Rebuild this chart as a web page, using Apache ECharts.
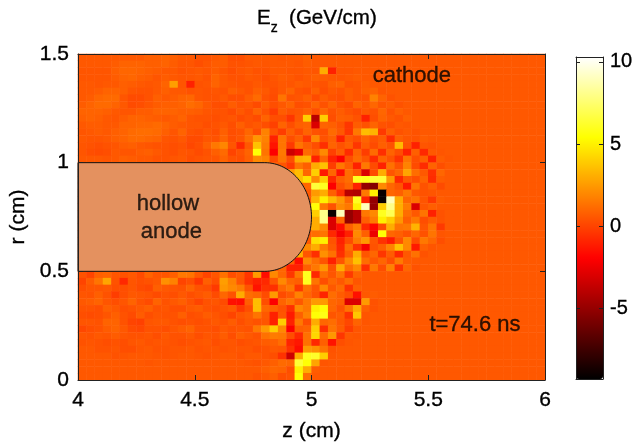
<!DOCTYPE html>
<html><head><meta charset="utf-8">
<style>html,body{margin:0;padding:0;background:#fff}#c{width:634px;height:443px}</style>
<script src="https://cdn.jsdelivr.net/npm/echarts@6/dist/echarts.min.js"></script>
</head><body><div id="c"></div>
<script>
const titleText = 'E{sub|z}  (GeV/cm)';
const xName = 'z (cm)';
const yName = 'r (cm)';
const zRange = [4, 6];
const rRange = [0, 1.5];
const colorRange = [-9.3, 10.3];
const colorTicks = [-5, 0, 5, 10];
const background = 0.6;
const columnCount = 56;
const hotStops = ['#000000','#550000','#aa0000','#ff0000','#ff5500','#ffaa00','#ffff00','#ffff80','#ffffff'];
const annotations = [
  ['hollow', 4.385, 0.811], ['anode', 4.40, 0.682], ['cathode', 5.43, 1.40], ['t=74.6 ns', 5.70, 0.253]
];
const anode = [4, 4.8, 5, 0.5, 1]; // zStart, zArcStart, zTip, rLow, rHigh
// first column held by each row (rows crossing the anode start past it); rows run from r=1.5 down to r=0
const rowStart = [0,0,0,0,0,0,0,0,0,0,0,0,0,0,0,0,22,25,26,27,28,28,28,28,28,28,28,28,27,26,25,22,0,0,0,0,0,0,0,0,0,0,0,0,0,0,0,0];
const rows = [
[.6,.6,.6,.6,.6,.6,.6,.6,.8,.8,.9,.8,.6,.6,.4,.4,.6,.7,.3,.3,.6,.6,.6,.6,.5,.6,.6,.8,.6,.6,.6],
[.6,.6,.6,.6,.7,.9,.9,.9,.8,.8,.9,.7,.5,.5,.3,.5,.7,.7,.4,.4,.5,.6,.5,.6,.6,.6,.5,.7,.6,.6,.6],
[.5,.5,.5,.5,.8,1,1,.9,.8,.7,.6,.6,.4,.5,.6,.5,.7,.5,.3,.5,.6,.4,.4,.6,.6,.5,.5,.6,.5,3,-1,.5,.5],
[.5,.5,.5,.5,.7,.9,1,.8,.7,.5,.7,.6,.5,.5,.6,.4,.9,.6,.4,.4,.6,.5,.3,.5,.7,.6,.4,.6,.8,.7,.6,.5,.6,.7],
[.6,.6,.5,.6,.6,.8,.7,.6,.5,.6,.9,2.6,.5,-1,.4,.5,.9,.6,.5,.4,.4,.6,.4,.4,.6,.5,.7,.6,.5,.4,.8,.9,.4,.5,.7],
[.6,.6,.7,.9,.9,.8,.5,.4,.4,.6,.8,.6,.6,.4,.5,.4,.5,.4,.8,.6,.4,.8,.6,.3,.6,.9,.4,.3,.8,.3,.6,.4,.7,.5,.8,.9,.5],
[.6,.7,1,1.1,1.1,.5,.2,.2,.4,.8,.6,.7,.9,1,.5,.4,.4,.6,.3,.3,.7,1.1,.4,.2,1.4,.4,.5,.8,.2,.7,.4,.3,.7,.5,.4,1.8,.9,.4],
[.7,.9,1.1,1.1,.9,.6,.2,.3,.5,.7,.8,.8,.9,1.2,1,.6,.3,.3,.7,.4,.5,.2,.7,.3,.6,.9,.3,.4,.9,.4,.9,.4,.2,.9,.6,1,.5,.7,.4],
[.9,.9,.9,.8,.6,.5,.5,.7,.7,.9,.9,.9,.8,.8,.7,.5,.4,.4,.2,.6,.3,.9,.4,-.2,.7,.4,.5,.8,.3,1,.4,.7,.4,.2,.6,.4,1,.4,.8],
[.8,.9,.8,.6,.5,.7,.9,.9,.8,.7,.6,.7,.9,.5,.4,.4,.3,.4,.5,.2,.4,.2,.9,.3,.3,-.4,.6,4,-4,4,.3,.8,.7,.4,-1,.3,.9,.6,.4,.8],
[.6,.7,.7,.6,.6,.9,.9,1,1,1.1,.9,.7,.6,.5,.5,.3,.4,.6,.3,.8,.4,.6,.3,-.1,.9,.3,.8,.9,-3,.9,.8,.4,-.4,.7,.4,.9,.4,.3,.6,.5],
[.5,.6,.7,.6,.8,.9,1.1,1.2,1.2,1.1,.8,.5,.9,.4,.3,.5,.3,.8,.3,.4,1,.3,1.8,.4,-.2,.8,.2,.9,.4,.3,1.1,.6,-.4,1.5,3.5,3.2,-.3,.8,.4,.6,.4],
[.6,.5,.5,.6,.8,.9,1.1,1.1,1,.9,.5,.4,.6,.2,.2,.5,.4,.9,.3,.5,1.2,2.4,1.8,-1,1.4,.3,.8,-.3,2,.4,.8,-1,.6,.3,.9,.4,.7,-.7,.8,.5,.4,.7],
[.5,.4,.3,.4,.5,.7,.8,.6,.5,.4,.4,.3,.4,.1,.3,.8,1.5,1.9,.5,-.8,.6,3.6,1.6,-1.4,1.4,-.3,1.4,.8,.3,-.6,.9,.4,.8,-.4,.7,.2,.8,.4,3.4,.4,-1,.5,.4],
[.5,.3,.2,.3,.6,.5,.5,.7,.8,.6,.4,.3,.5,.4,.2,.4,.8,1.1,0,.4,.9,5.5,1.4,-2,1.5,-3.4,-2.6,1.1,.8,2,-.1,.7,-.7,.9,-.2,1.1,-.6,.9,.3,-1,.8,-.8,.6,.5],
[.6,.6,.6,.5,.6,.8,.7,.6,.6,.4,.4,.5,.6,.3,.4,.5,.5,.9,.4,.3,.8,2,1.8,.2,1.4,.3,3,3.2,-1,.9,-1,-2,.3,1.1,.5,-.7,.9,.4,-.5,1.4,.3,.8,-1,.7,.5],
[1,.8,.5,-.3,1.4,.8,3,3.6,-.2,1.5,.7,-1,1.5,.2,-1,1.3,.4,1.8,.2,-.7,.9,.3],
[2.5,3.5,1,4,-1.2,1,-1.5,1.2,.5,-3,.2,3,.5,1,2.8,1.2,.6,-.6,1],
[3.5,4.5,2,4,-.8,.8,1.2,6,6,6.5,6.5,2.5,-.8,.6,.3,.9,-.7,.7],
[1,6.5,6,-2,.3,.9,-1,-5,-5.5,2,1,.5,-1.2,1.4,.4,.8,.2],
[2.5,3,.8,-.6,-4,-4.2,1.5,5,-9,1,.8,1.5,.6,.4,.5],
[3.2,5,3.4,2.4,1,6,-1,-5,-9,9,3,1,1.3,.5,-.3,.7],
[5.5,1.5,.4,2,1.5,5,9,-5,4,8,3,1.6,-3,.5,.8,.6],
[4,8,-9,9,-5,-4,1.5,2,6,7,3,1.2,.6,1.4,-1,.4],
[3,8,-3,1,-5,-4,.8,1.6,5,4,2.4,.8,1.5,.3,.7,.4],
[3,2,-3,-1.6,.8,1.6,-.8,-1.8,.2,3,1.4,1.5,3.2,.5,1.4,-.3],
[1.2,1.4,-.8,-2.2,-1,2,.8,-2.5,5.5,1,.8,.4,1,.4,1.4,.5],
[4.5,5,.4,-1,.2,1.6,2.4,.5,-.5,-1.2,.4,2,.2,1.5,1,.3,.6],
[2,3,1.6,.6,-.8,1.2,-.5,-2.2,.4,.8,1.8,3.6,2,-1.2,.8,.5],
[3,.5,-.6,2.2,1.3,-.6,.8,3,.5,1,-.4,.7,-.8,.6,1.3,.4],
[.8,-1.6,2,1.2,.5,-1,.5,2,3.6,1.2,.6,1,.3,1.6,.7],
[-.4,.5,1,-1,-1,.8,1.5,2.4,.4,3,1.2,2,-.6,1.5,.3,1.8,-.5,1,.4],
[.4,0,.8,.9,.5,.4,.6,.2,.9,.5,.5,.8,1.5,1.4,.6,0,.5,1.3,.3,.6,-.4,2.5,-1.6,2,1,-.4,1.5,6,-.8,1.2,.5,1.4,-.3,.9,.6,.6],
[0,.7,1.4,2.8,.4,-.8,.5,.3,.4,.6,2.2,1.8,0,.3,-.4,.8,.3,2.6,1.8,.5,-.5,-1,-.8,.5,2,1,.8,6,1.4,.3,1,.6,1.2,.5,.6],
[.3,.5,.5,.6,.3,.3,.5,.2,.1,.8,.6,.5,.4,.9,.4,.3,-.3,2.4,2,1.6,.4,-1.4,-.5,-.6,1,1.5,-.4,1.3,.5,2,.6,1.1,-.5,.8,.6,.6],
[.5,.4,.8,.4,-.2,.3,.6,.5,.4,.2,.4,.3,.6,.3,.5,.7,.2,1,.4,3,1.2,1,.2,2.5,.2,.6,1.8,1,.4,-.9,1.2,.7,.3,-1.5,.6,.7,.6],
[.6,.7,.9,.5,.3,.5,.9,.4,.2,.9,.4,.6,.8,.4,0,.4,.5,.2,-1.5,-1.6,.8,3.5,.3,-2,.9,1.4,.6,1.5,2.5,2.5,1,.8,-3,-3,2.5,.4,.6],
[.4,.4,.3,.8,.6,.3,.4,.6,.8,.4,.5,.3,.3,.6,.7,.4,.3,.4,.6,-.3,.3,3.5,1,.8,.4,-.6,2,1.5,5,5.5,1,.4,1.4,3,.8,.4],
[.3,.2,.3,.5,.8,.4,.2,.7,.3,.5,.4,.4,.8,.3,.4,.7,.5,.3,0,.5,.7,1.4,.6,-1,.5,-1.2,.8,1.8,5.5,5.8,.5,.7,-.5,3.8,.5],
[.5,.5,.4,.9,.9,.4,0,-.1,.5,.6,.6,.4,.3,.4,.3,.4,.6,.4,.7,.3,.6,.4,.5,-1,4,-1,1.5,.3,3,1,1.2,.6,.1,.9,.5],
[.1,.3,.4,.7,.9,.6,.2,.1,.4,.4,.3,.5,.7,.9,.4,.4,.3,.6,.4,.5,.4,1.5,2.5,4,2,-2,.8,.9,4,-.6,1.4,.7,-.2,.5],
[.5,.4,.6,.5,.7,.5,.4,.4,.5,.3,.6,.4,.4,.6,.3,.5,.4,.7,.3,.8,.6,.4,1.3,1.6,1.5,.3,-.8,1.3,4.2,1.1,2.4,-.4,.6,.5],
[.4,.5,.4,.3,.4,.3,.5,.6,.4,.5,.5,.4,.3,.4,.5,.6,.3,.5,.5,.3,.4,.5,.7,.8,1.2,-.9,-1.3,1.3,-.8,.8,-1.4,.3,.5],
[.6,.6,.4,.4,.5,.3,.3,.5,.6,.4,.4,.5,.5,.6,.4,.5,.5,.4,.5,.5,.5,.3,.4,.6,.5,-.5,-1.6,2.5,2.2,1.4,.4,.6],
[.6,.6,.6,.6,.4,.5,.6,.6,.6,.5,.4,.5,.6,.6,.5,.4,.5,.6,.6,.4,.6,.6,.4,.3,-.5,-3.4,3,6,6.2,4,.5],
[.6,.6,.6,.6,.6,.6,.6,.6,.5,.6,.6,.6,.6,.6,.6,.6,.6,.6,.6,.6,.5,.4,.6,.8,1.1,1,6.4,5.5,2.8,.5,.6],
[.6,.6,.6,.6,.6,.6,.6,.6,.6,.6,.6,.6,.6,.6,.6,.6,.6,.6,.6,.6,.6,.6,.8,1,.9,.3,5,3,.7,.6],
[.6,.6,.6,.6,.6,.6,.6,.6,.6,.6,.6,.6,.6,.6,.6,.6,.6,.6,.6,.6,.6,.4,.6,.8,.3,.4,5.5,1.2,.6]
];

const cellData = [];
rows.forEach((row, r) => {
  for (let c = 0; c < columnCount; c++) {
    const v = row[c - rowStart[r]];
    cellData.push([c, r, v === undefined ? background : v]);
  }
});
const font = 'Liberation Sans, Arial, sans-serif';
const inkStroke = { textBorderColor: '#000', textBorderWidth: 0.35 };
const axisLabel = { color: '#000', fontSize: 21, fontFamily: font, ...inkStroke };
const line = { show: true, onZero: false, lineStyle: { color: '#222', width: 1 } };

const chart = echarts.init(document.getElementById('c'), null, { renderer: 'canvas' });
chart.setOption({
  animation: false,
  backgroundColor: '#fff',
  title: {
    text: titleText, left: 252, top: -4,
    textStyle: { color: '#000', fontSize: 20.5, fontWeight: 'normal', fontFamily: font, ...inkStroke,
      rich: { sub: { fontSize: 14, fontFamily: font, color: '#000', verticalAlign: 'bottom', padding: [20, 0, 0, 0] } } }
  },
  grid: [
    { left: 78, top: 54, width: 467, height: 326, outerBoundsMode: 'none' },
    { left: 576, top: 57, width: 27, height: 322, outerBoundsMode: 'none' }
  ],
  visualMap: {
    type: 'continuous', seriesIndex: 0, min: colorRange[0], max: colorRange[1],
    orient: 'vertical', left: 576, top: 57, itemWidth: 27, itemHeight: 322,
    text: ['', ''], showLabel: false, calculable: false, hoverLink: false, padding: 0,
    inRange: { color: hotStops }
  },
  xAxis: [
    { type: 'category', gridIndex: 0, show: false, data: Array.from({ length: columnCount }, (_, i) => i) },
    { type: 'value', gridIndex: 0, min: zRange[0], max: zRange[1], interval: 0.5, position: 'bottom', z: 10,
      name: xName, nameLocation: 'middle', nameGap: 41, nameTextStyle: axisLabel, axisLine: line,
      axisTick: { inside: true, length: 5, lineStyle: { color: '#222' } }, axisLabel: { ...axisLabel, margin: 10, formatter: v => String(v) }, splitLine: { show: false } },
    { type: 'value', gridIndex: 0, min: zRange[0], max: zRange[1], interval: 0.5, position: 'top', z: 10,
      axisLine: line, axisTick: { inside: true, length: 5, lineStyle: { color: '#222' } }, axisLabel: { show: false }, splitLine: { show: false } },
    { type: 'value', gridIndex: 1, min: 0, max: 1, position: 'bottom', z: 10, axisLine: line, axisTick: { show: false }, axisLabel: { show: false }, splitLine: { show: false } },
    { type: 'value', gridIndex: 1, min: 0, max: 1, position: 'top', z: 10, axisLine: line, axisTick: { show: false }, axisLabel: { show: false }, splitLine: { show: false } }
  ],
  yAxis: [
    { type: 'category', gridIndex: 0, show: false, inverse: true, data: rows.map((_, i) => i) },
    { type: 'value', gridIndex: 0, min: rRange[0], max: rRange[1], interval: 0.5, position: 'left', z: 10,
      name: yName, nameLocation: 'middle', nameGap: 43, nameTextStyle: axisLabel, axisLine: line,
      axisTick: { inside: true, length: 5, lineStyle: { color: '#222' } }, axisLabel: { ...axisLabel, margin: 9, formatter: v => String(v) }, splitLine: { show: false } },
    { type: 'value', gridIndex: 0, min: rRange[0], max: rRange[1], interval: 0.5, position: 'right', z: 10,
      axisLine: line, axisTick: { inside: true, length: 5, lineStyle: { color: '#222' } }, axisLabel: { show: false }, splitLine: { show: false } },
    { type: 'value', gridIndex: 1, min: colorRange[0], max: colorRange[1], interval: 5, position: 'right', z: 10,
      axisLine: line, axisTick: { inside: true, length: 4, lineStyle: { color: '#222' }, customValues: colorTicks },
      axisLabel: { ...axisLabel, fontSize: 20, margin: 7, customValues: colorTicks, formatter: v => String(v) }, splitLine: { show: false } },
    { type: 'value', gridIndex: 1, min: colorRange[0], max: colorRange[1], interval: 5, position: 'left', z: 10,
      axisLine: line, axisTick: { inside: true, length: 4, lineStyle: { color: '#222' }, customValues: colorTicks },
      axisLabel: { show: false }, splitLine: { show: false } }
  ],
  series: [
    { type: 'heatmap', xAxisIndex: 0, yAxisIndex: 0, data: cellData, progressive: 0, emphasis: { disabled: true } },
    { type: 'custom', xAxisIndex: 1, yAxisIndex: 1, z: 5, data: [anode], silent: true,
      renderItem: (params, api) => {
        const [z0, zA, zT, rL, rH] = [0, 1, 2, 3, 4].map(i => api.value(i));
        const pts = [api.coord([z0, rH])];
        for (let d = 0; d <= 180; d += 3) {
          const a = d * Math.PI / 180;
          pts.push(api.coord([zA + (zT - zA) * Math.sin(a), (rH + rL) / 2 + (rH - rL) / 2 * Math.cos(a)]));
        }
        pts.push(api.coord([z0, rL]));
        return { type: 'polyline', shape: { points: pts.concat([pts[0]]) },
          style: { fill: '#e4915f', stroke: '#111', lineWidth: 1 } };
      } },
    { type: 'scatter', xAxisIndex: 1, yAxisIndex: 1, z: 6, symbolSize: 0, silent: true,
      data: annotations.map(a => ({ value: [a[1], a[2]], name: a[0] })),
      label: { show: true, position: 'inside', formatter: p => p.name, color: '#000', fontSize: 22, fontFamily: font, ...inkStroke } }
  ]
});
</script></body></html>
